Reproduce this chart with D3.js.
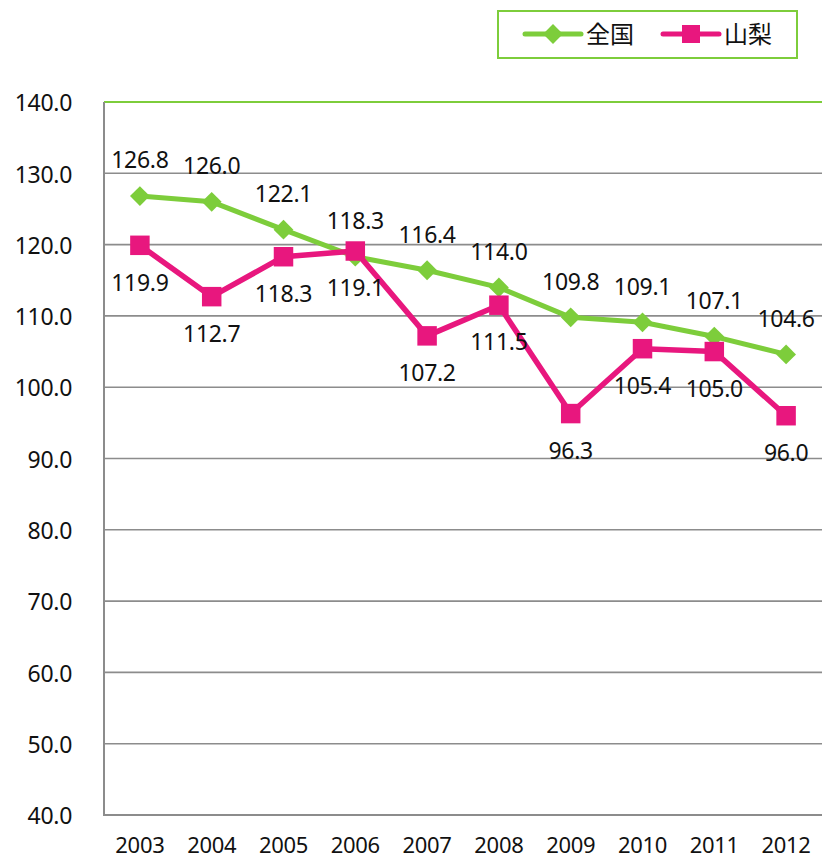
<!DOCTYPE html>
<html>
<head>
<meta charset="utf-8">
<script src="https://cdn.jsdelivr.net/npm/d3@7"></script>
<style>
  html, body { margin: 0; padding: 0; background: #fff; }
  svg { display: block; }
</style>
</head>
<body>
<svg id="svg"></svg>
<script>
// data
const years    = ['2003', '2004', '2005', '2006', '2007', '2008', '2009', '2010', '2011', '2012'];
const national = [126.8, 126.0, 122.1, 118.3, 116.4, 114.0, 109.8, 109.1, 107.1, 104.6];
const yamanashi = [119.9, 112.7, 118.3, 119.1, 107.2, 111.5, 96.3, 105.4, 105.0, 96.0];
const yTicks   = [40, 50, 60, 70, 80, 90, 100, 110, 120, 130, 140];
const seriesNames = ['全国', '山梨'];

const W = 822, H = 861;
const GREEN = '#7dcd3b', PINK = '#e8177e', GRID = '#8c8c8c';
const NUM_FONT = '"Noto Sans", "DejaVu Sans", sans-serif';
const CJK_FONT = '"Noto Sans CJK JP", "Noto Sans", sans-serif';
const NUM_SIZE = '23px', NUM_SPACING = '-0.3px';

const svg = d3.select('#svg').attr('width', W).attr('height', H);

const plot = { left: 104, right: 822, top: 102, bottom: 815 };

const x = d3.scalePoint().domain(years).range([plot.left, plot.right]).padding(0.5);
const y = d3.scaleLinear().domain([40, 140]).range([plot.bottom, plot.top]);

// gridlines
svg.append('g').selectAll('line').data(yTicks.filter(t => t !== 140 && t !== 40)).join('line')
  .attr('x1', plot.left).attr('x2', plot.right)
  .attr('y1', d => y(d)).attr('y2', d => y(d))
  .attr('stroke', GRID).attr('stroke-width', 1.6);

// top border (green) and bottom axis
svg.append('line')
  .attr('x1', plot.left).attr('x2', plot.right)
  .attr('y1', y(140)).attr('y2', y(140))
  .attr('stroke', GREEN).attr('stroke-width', 2);
svg.append('line')
  .attr('x1', plot.left).attr('x2', plot.right)
  .attr('y1', y(40)).attr('y2', y(40))
  .attr('stroke', GRID).attr('stroke-width', 2);
svg.append('line')
  .attr('x1', plot.left).attr('x2', plot.left)
  .attr('y1', y(140)).attr('y2', y(40) + 1)
  .attr('stroke', GRID).attr('stroke-width', 2);

// y tick labels
svg.append('g').selectAll('text').data(yTicks).join('text')
  .attr('x', 72).attr('y', d => y(d) + 1)
  .attr('dy', '.36em')
  .attr('text-anchor', 'end')
  .attr('font-family', NUM_FONT).attr('font-size', NUM_SIZE).attr('letter-spacing', NUM_SPACING)
  .attr('fill', '#111')
  .text(d => d.toFixed(1));

// x tick labels
svg.append('g').selectAll('text').data(years).join('text')
  .attr('x', d => x(d)).attr('y', 845)
  .attr('dy', '.36em')
  .attr('text-anchor', 'middle')
  .attr('font-family', NUM_FONT).attr('font-size', '22px').attr('letter-spacing', NUM_SPACING)
  .attr('fill', '#111')
  .text(d => d);

const line = d3.line().x((d, i) => x(years[i])).y(d => y(d));

// national series
svg.append('path').datum(national)
  .attr('d', line).attr('fill', 'none')
  .attr('stroke', GREEN).attr('stroke-width', 5).attr('stroke-linejoin', 'round');
const diamond = d3.symbol().type(d3.symbolSquare).size(196);
svg.append('g').selectAll('path').data(national).join('path')
  .attr('d', diamond)
  .attr('transform', (d, i) => `translate(${x(years[i])},${y(d)}) rotate(45)`)
  .attr('fill', GREEN);

// yamanashi series
svg.append('path').datum(yamanashi)
  .attr('d', line).attr('fill', 'none')
  .attr('stroke', PINK).attr('stroke-width', 5.5).attr('stroke-linejoin', 'round');
const square = d3.symbol().type(d3.symbolSquare).size(380);
svg.append('g').selectAll('path').data(yamanashi).join('path')
  .attr('d', square)
  .attr('transform', (d, i) => `translate(${x(years[i])},${y(d)})`)
  .attr('fill', PINK);

// data labels: national above, yamanashi below
svg.append('g').selectAll('text').data(national).join('text')
  .attr('x', (d, i) => x(years[i])).attr('y', d => y(d) - 36)
  .attr('dy', '.36em').attr('text-anchor', 'middle')
  .attr('font-family', NUM_FONT).attr('font-size', NUM_SIZE).attr('letter-spacing', NUM_SPACING)
  .attr('fill', '#111')
  .text(d => d.toFixed(1));
svg.append('g').selectAll('text').data(yamanashi).join('text')
  .attr('x', (d, i) => x(years[i])).attr('y', d => y(d) + 37)
  .attr('dy', '.36em').attr('text-anchor', 'middle')
  .attr('font-family', NUM_FONT).attr('font-size', NUM_SIZE).attr('letter-spacing', NUM_SPACING)
  .attr('fill', '#111')
  .text(d => d.toFixed(1));

// legend
const leg = svg.append('g');
leg.append('rect')
  .attr('x', 498).attr('y', 11).attr('width', 299).attr('height', 47)
  .attr('fill', '#fff').attr('stroke', GREEN).attr('stroke-width', 2);

const legItems = [
  { name: seriesNames[0], color: GREEN, x0: 525, sym: diamond, rot: 45 },
  { name: seriesNames[1], color: PINK,  x0: 663, sym: d3.symbol().type(d3.symbolSquare).size(324), rot: 0 }
];
legItems.forEach(it => {
  const cy = 34;
  leg.append('line')
    .attr('x1', it.x0).attr('x2', it.x0 + 56).attr('y1', cy).attr('y2', cy)
    .attr('stroke', it.color).attr('stroke-width', 5).attr('stroke-linecap', 'round');
  leg.append('path').attr('d', it.sym)
    .attr('transform', `translate(${it.x0 + 28},${cy}) rotate(${it.rot})`)
    .attr('fill', it.color);
  leg.append('text')
    .attr('x', it.x0 + 61).attr('y', cy).attr('dy', '.36em')
    .attr('font-family', CJK_FONT).attr('font-size', '24px').attr('fill', '#111')
    .text(it.name);
});
</script>
</body>
</html>
